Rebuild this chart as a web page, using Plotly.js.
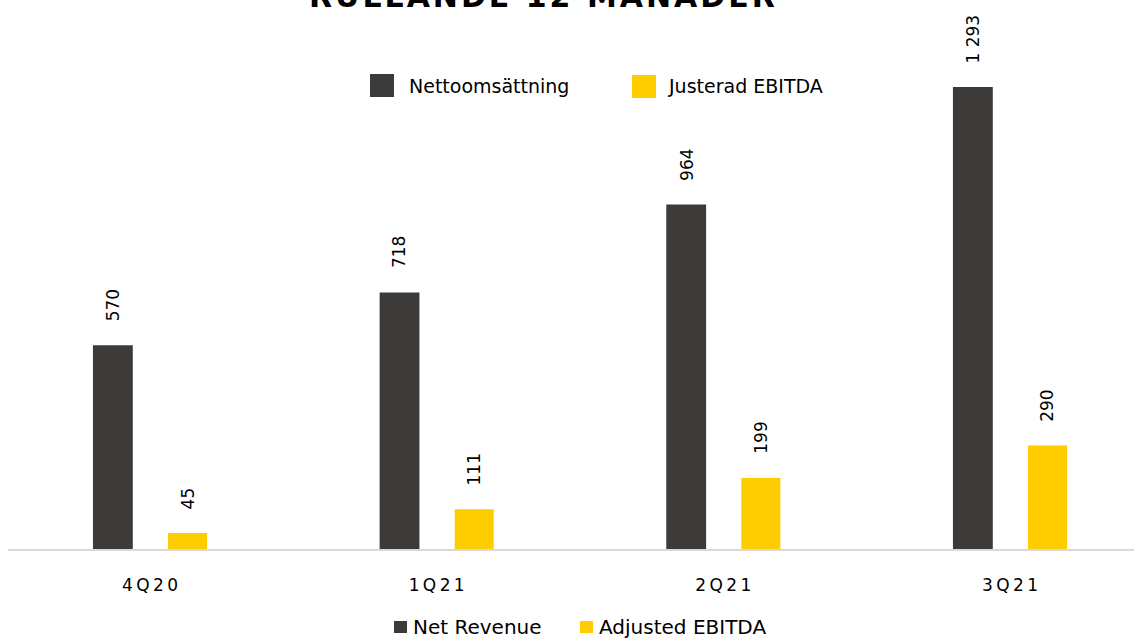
<!DOCTYPE html>
<html>
<head>
<meta charset="utf-8">
<script src="https://cdn.plot.ly/plotly-3.0.1.min.js"></script>
<style>html,body{margin:0;padding:0;background:#fff;}#chart{width:1142px;height:639px;}</style>
</head>
<body>
<div id="chart"></div>
<script>
// ---- data ----
const categories = ['4Q20', '1Q21', '2Q21', '3Q21'];
const netRevenue = [570, 718, 964, 1293];
const adjustedEbitda = [45, 111, 199, 290];
const titleText = 'RULLANDE 12 MÅNADER';
const seriesNamesSv = ['Nettoomsättning', 'Justerad EBITDA'];
const seriesNamesEn = ['Net Revenue', 'Adjusted EBITDA'];

// ---- style ----
const DARK = '#3C3B39';
const YELLOW = '#FFCC00';
const W = 1142, H = 639;
const M = {l: 8, r: 8, t: 20, b: 90};
const PW = W - M.l - M.r, PH = H - M.t - M.b;
const px2x = p => (p - M.l) / PW;
const px2y = p => (H - M.b - p) / PH;
const FONT = 'DejaVu Sans, Verdana, sans-serif';

const fmt = v => String(v).replace(/\B(?=(\d{3})+(?!\d))/g, ' ');

const traces = [
  {type: 'bar', name: seriesNamesEn[0], x: categories, y: netRevenue,
   marker: {color: DARK}, offset: -0.199, width: 0.139, showlegend: false, hoverinfo: 'x+y'},
  {type: 'bar', name: seriesNamesEn[1], x: categories, y: adjustedEbitda,
   marker: {color: YELLOW}, offset: 0.063, width: 0.136, showlegend: false, hoverinfo: 'x+y'}
];

const annotations = [];
const addLabels = (vals, xs) => vals.forEach((v, i) => annotations.push({
  x: categories[i], y: v, xref: 'x', yref: 'y', text: fmt(v), showarrow: false,
  textangle: -90, yanchor: 'bottom', xanchor: 'center', yshift: 22, xshift: xs,
  font: {family: FONT, size: 17, color: '#000'}
}));
addLabels(netRevenue, -37);
addLabels(adjustedEbitda, 37.5);

// title
annotations.push({xref: 'paper', yref: 'paper', x: px2x(542), y: px2y(-4), xanchor: 'center', yanchor: 'middle',
  text: '<b>' + titleText.split('').join('\u200A') + '</b>', showarrow: false,
  font: {family: FONT, size: 30, color: '#000'}});

const shapes = [];
// top legend
const topLeg = [{sq: [370, 394, 74, 97], tx: 407, ty: 86, c: DARK}, {sq: [632, 656, 75, 98], tx: 666, ty: 86, c: YELLOW}];
topLeg.forEach((o, i) => {
  shapes.push({type: 'rect', xref: 'paper', yref: 'paper', x0: px2x(o.sq[0]), x1: px2x(o.sq[1]),
    y0: px2y(o.sq[3]), y1: px2y(o.sq[2]), fillcolor: o.c, line: {width: 0}});
  annotations.push({xref: 'paper', yref: 'paper', x: px2x(o.tx), y: px2y(o.ty), xanchor: 'left', yanchor: 'middle',
    text: seriesNamesSv[i], showarrow: false, font: {family: FONT, size: 19, color: '#000'}});
});
// bottom legend
const botLeg = [{sq: [394, 407, 621, 633], tx: 411, ty: 627, c: DARK}, {sq: [580, 593, 621, 633], tx: 597, ty: 627, c: YELLOW}];
botLeg.forEach((o, i) => {
  shapes.push({type: 'rect', xref: 'paper', yref: 'paper', x0: px2x(o.sq[0]), x1: px2x(o.sq[1]),
    y0: px2y(o.sq[3]), y1: px2y(o.sq[2]), fillcolor: o.c, line: {width: 0}});
  annotations.push({xref: 'paper', yref: 'paper', x: px2x(o.tx), y: px2y(o.ty), xanchor: 'left', yanchor: 'middle',
    text: seriesNamesEn[i], showarrow: false, font: {family: FONT, size: 20, color: '#000'}});
});

const layout = {
  width: W, height: H,
  margin: M,
  paper_bgcolor: '#fff', plot_bgcolor: '#fff',
  barmode: 'overlay',
  showlegend: false,
  xaxis: {
    type: 'category', range: [-0.4953, 3.4326], fixedrange: true,
    tickmode: 'array', tickvals: categories, ticktext: categories.map(c => c.split('').join('\u2009')),
    ticks: '', showline: true, linecolor: '#D9D9D9', linewidth: 2, showgrid: false, zeroline: false,
    tickfont: {family: FONT, size: 17, color: '#000'}, ticklabelstandoff: 20
  },
  yaxis: {range: [0, PH / 0.3573], visible: false, showgrid: false, zeroline: false, fixedrange: true},
  annotations: annotations,
  shapes: shapes
};

Plotly.newPlot('chart', traces, layout, {displayModeBar: false, staticPlot: true});
</script>
</body>
</html>
